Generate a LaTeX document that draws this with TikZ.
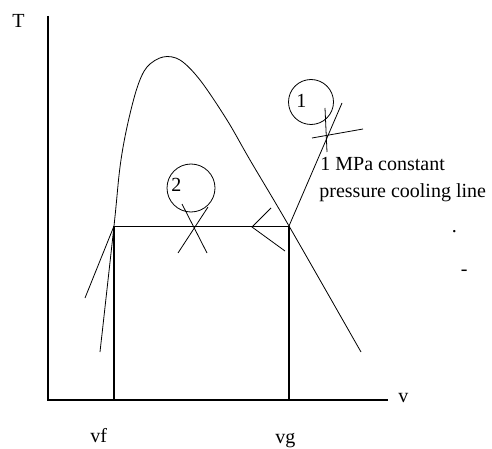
\documentclass[tikz,border=0pt]{standalone}
\usepackage{fontspec}
\setmainfont{Liberation Serif}
\begin{document}
\begin{tikzpicture}[x=1pt,y=-1pt,line width=0.8pt,
  lbl/.style={font=\fontsize{20}{26}\selectfont,inner sep=0pt,anchor=base west},
  axis/.style={line width=1.2pt},
  ring/.style={draw,circle,inner sep=0pt,line width=0.8pt}]
\useasboundingbox (0,0) rectangle (492,449);
% axes
\coordinate (Ttop) at (48,16);
\coordinate (O) at (48,400);
\coordinate (Vend) at (388,400);
\draw[axis] (Ttop) -- (O) -- (Vend);
% saturation states
\coordinate (F) at (114,226);
\coordinate (G) at (289,226);
\coordinate (Fb) at (114,400);
\coordinate (Gb) at (289,400);
\draw (F) -- (G);
\draw[axis] (F) -- (Fb);
\draw[axis] (G) -- (Gb);
% dome
\draw plot[smooth,tension=0.55] coordinates {(100,352) (114,226) (120,167) (127,127) (137,88) (147,67) (163,57) (180,60) (200,80) (227,120) (250,160) (289,226) (361,352)};
% extra line at f
\coordinate (Ft) at (85,298);
\draw (F) -- (Ft);
% arrow chevron
\coordinate (A) at (252,227);
\coordinate (A1) at (271,208);
\coordinate (A2) at (285,251);
\draw (A1) -- (A) -- (A2);
% process line to state 1
\coordinate (P1e) at (342,103);
\draw (G) -- (P1e);
\coordinate (C1a) at (312,138);
\coordinate (C1b) at (363,129);
\coordinate (C1c) at (325,108);
\coordinate (C1d) at (327,152);
\draw (C1a) -- (C1b);
\draw (C1c) -- (C1d);
% state 2 cross
\coordinate (X1) at (182,204);
\coordinate (X2) at (207,253);
\coordinate (X3) at (208,207);
\coordinate (X4) at (178,253);
\draw (X1) -- (X2);
\draw (X3) -- (X4);
% circles
\node[ring,minimum size=45pt] (c1) at (311,102) {};
\node[ring,minimum size=48pt] (c2) at (191,188) {};
% labels
\node[lbl] (n1) at (296,108) {1};
\node[lbl] (n2) at (171,191) {2};
\node[lbl] (tT) at (12,28) {T};
\node[lbl] (tv) at (398,402) {v};
\node[lbl] (tvf) at (90,442) {vf};
\node[lbl] (tvg) at (275,443) {vg};
\node[lbl] (t1) at (320,171) {1 MPa constant};
\node[lbl] (t2) at (319,197) {pressure cooling line};
\node[lbl] (d1) at (451.5,232) {.};
\node[lbl] (d2) at (460.5,275) {-};
\end{tikzpicture}
\end{document}
